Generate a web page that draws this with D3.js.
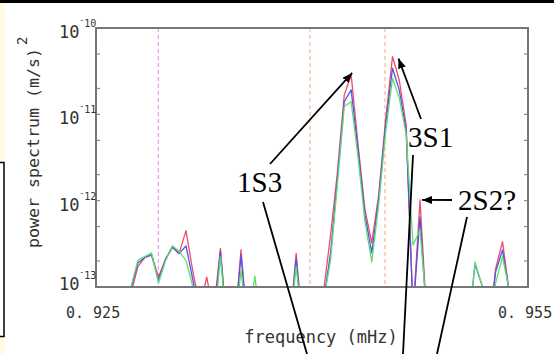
<!DOCTYPE html>
<html>
<head>
<meta charset="utf-8">
<script src="https://cdn.jsdelivr.net/npm/d3@7"></script>
<style>
  html, body { margin: 0; padding: 0; background: #fff; }
  svg { display: block; }
</style>
</head>
<body>
<script>
// frequency samples (mHz)
const freqs = [
  0.92552, 0.92600, 0.92647, 0.92695, 0.92743, 0.92791, 0.92839, 0.92886, 0.92934, 0.92982,
  0.93030, 0.93077, 0.93125, 0.93173, 0.93221, 0.93269, 0.93316, 0.93364, 0.93412, 0.93460,
  0.93507, 0.93555, 0.93603, 0.93651, 0.93699, 0.93746, 0.93794, 0.93842, 0.93890, 0.93938,
  0.93985, 0.94033, 0.94081, 0.94129, 0.94176, 0.94224, 0.94272, 0.94320, 0.94368, 0.94415,
  0.94463, 0.94511, 0.94559, 0.94606, 0.94654, 0.94702, 0.94750, 0.94798, 0.94845, 0.94893,
  0.94941, 0.94989, 0.95036, 0.95084, 0.95132, 0.95180, 0.95228, 0.95275, 0.95323, 0.95371,
  0.95419, 0.95466
];

// power spectrum, in units of 1e-13 (m/s)^2
const unit = 1e-13;
const redPow = [
  0.3, 0.3, 0.3, 0.4, 0.85, 1.72, 2.2, 2.35, 1.31, 2.1,
  2.9, 2.45, 4.5, 1.5, 0.6, 1.3, 0.5, 2.8, 0.3, 0.3,
  2.7, 0.3, 0.3, 0.3, 0.3, 0.3, 0.3, 0.3, 2.45, 0.3,
  0.3, 0.3, 0.9, 4.0, 21, 168, 286, 44, 7.8, 3.24,
  11.6, 86, 467, 250, 75, 0.5, 10.2, 0.4, 0.3, 0.3,
  0.3, 0.3, 0.3, 0.3, 0.5, 0.3, 0.3, 1.62, 3.35, 0.85,
  0.3, 0.3
];
const bluePow = [
  0.3, 0.3, 0.3, 0.5, 0.95, 1.9, 2.2, 2.35, 1.2, 2.05,
  2.9, 2.45, 2.99, 1.2, 0.5, 0.6, 0.4, 2.61, 0.3, 0.3,
  2.35, 0.3, 0.3, 0.3, 0.3, 0.3, 0.3, 0.3, 2.17, 0.3,
  0.3, 0.3, 0.7, 2.48, 17.4, 140, 192, 38.7, 6.8, 2.48,
  10.2, 75, 342, 192, 66, 0.5, 6.5, 0.4, 0.3, 0.3,
  0.3, 0.3, 0.3, 0.3, 1.85, 1.05, 0.3, 1.49, 2.68, 0.85,
  0.3, 0.3
];
const greenPow = [
  0.3, 0.3, 0.3, 0.6, 1.0, 2.05, 2.25, 2.48, 1.11, 2.0,
  3.0, 2.6, 2.02, 1.0, 0.4, 0.4, 0.3, 2.23, 0.3, 0.3,
  1.57, 0.3, 1.34, 0.3, 0.3, 0.3, 0.3, 0.3, 1.72, 0.3,
  0.3, 0.3, 0.7, 2.05, 15.2, 123, 140, 31.3, 5.7, 1.95,
  8.9, 61, 262, 155, 58, 3.06, 4.57, 0.5, 0.3, 0.3,
  0.3, 0.3, 0.3, 0.3, 1.95, 1.05, 0.3, 1.11, 2.24, 0.9,
  0.3, 0.3
];

// theoretical mode frequencies (dashed lines)
const refFreqs = [0.92933, 0.93986, 0.94507];

// x axis labels
const xTickValues = [0.925, 0.955];
const xTickLabels = ["0. 925", "0. 955"];

// annotated peaks
const modeNames = ["1S3", "3S1", "2S2?"];
const modeFreqs = [0.94272, 0.94559, 0.94750];
const modePow = [286, 467, 10.2];

const W = 554, H = 354;
const m = {top: 28, right: 26, bottom: 67, left: 96};

const x = d3.scaleLinear().domain([0.925, 0.955]).range([m.left, W - m.right]);
const y = d3.scaleLog().domain([1e-13, 1e-10]).range([H - m.bottom, m.top]);

const svg = d3.select("body").append("svg")
    .attr("width", W)
    .attr("height", H);

// slide frame bits
svg.append("rect").attr("x", 0).attr("y", 0).attr("width", W).attr("height", 3).attr("fill", "#000");
svg.append("rect").attr("x", 0).attr("y", 3).attr("width", 5).attr("height", 159).attr("fill", "#fffbe0");
svg.append("rect").attr("x", 0).attr("y", 337).attr("width", 5).attr("height", 17).attr("fill", "#fffbe0");
svg.append("rect").attr("x", -4).attr("y", 162.5).attr("width", 8).attr("height", 174)
    .attr("fill", "#fff").attr("stroke", "#000").attr("stroke-width", 1.5);

svg.append("clipPath").attr("id", "plot")
  .append("rect")
    .attr("x", m.left).attr("y", m.top)
    .attr("width", W - m.left - m.right).attr("height", H - m.top - m.bottom);

// dashed reference lines
svg.append("g")
  .selectAll("line")
  .data(refFreqs)
  .join("line")
    .attr("x1", d => x(d)).attr("x2", d => x(d))
    .attr("y1", m.top).attr("y2", H - m.bottom)
    .attr("stroke", (d, i) => i == 0 ? "#ec9cec" : "#f2b896")
    .attr("stroke-width", 1.2)
    .attr("stroke-dasharray", "4,3");

// spectra
const series = [
  {name: "red", values: redPow, color: "#ee4c6a"},
  {name: "blue", values: bluePow, color: "#5252ea"},
  {name: "green", values: greenPow, color: "#5ede6a"}
];

const line = d3.line()
    .x((d, i) => x(freqs[i]))
    .y(d => y(d * unit));

svg.append("g")
    .attr("clip-path", "url(#plot)")
  .selectAll("path")
  .data(series)
  .join("path")
    .attr("fill", "none")
    .attr("stroke", d => d.color)
    .attr("stroke-width", 1.3)
    .attr("stroke-linejoin", "round")
    .attr("d", d => line(d.values));

// frame + ticks
const axisColor = "#777";
const minor = y.ticks().filter(v => {
  const mant = Math.round(v / Math.pow(10, Math.floor(Math.log10(v) + 1e-9)));
  return mant == 1 || mant == 2 || mant == 5;
});

const ticks = svg.append("g").attr("stroke", axisColor).attr("stroke-width", 1);
ticks.selectAll(".l")
  .data(minor)
  .join("line")
    .attr("x1", m.left).attr("x2", m.left + 4)
    .attr("y1", d => y(d)).attr("y2", d => y(d));
ticks.selectAll(".r")
  .data(minor)
  .join("line")
    .attr("x1", W - m.right - 4).attr("x2", W - m.right)
    .attr("y1", d => y(d)).attr("y2", d => y(d));

svg.append("rect")
    .attr("x", m.left).attr("y", m.top)
    .attr("width", W - m.left - m.right).attr("height", H - m.top - m.bottom)
    .attr("fill", "none")
    .attr("stroke", axisColor)
    .attr("stroke-width", 2);

// y tick labels 10^n, one text each
const mono = "'DejaVu Sans Mono', 'Liberation Mono', monospace";
const decades = y.ticks().filter(v => Math.abs(Math.log10(v) - Math.round(Math.log10(v))) < 1e-6);

svg.append("g")
    .attr("fill", "#333")
    .attr("font-family", mono)
  .selectAll("text")
  .data(decades)
  .join("text")
    .attr("x", 59)
    .attr("y", v => y(v) + (v == y.domain()[0] ? 3 : 10))
    .each(function (v) {
      const t = d3.select(this);
      t.append("tspan").attr("font-size", 17).text("10");
      t.append("tspan").attr("font-size", 8).attr("dy", -15).text("-");
      t.append("tspan").attr("font-size", 10).attr("dy", 4)
          .text(String(-Math.round(Math.log10(v))));
    });

// x tick labels
svg.append("g")
    .attr("fill", "#333")
    .attr("font-family", mono)
  .selectAll("text")
  .data(xTickValues)
  .join("text")
    .attr("x", d => x(d) - 30)
    .attr("y", 318)
    .attr("font-size", 15)
    .text((d, i) => xTickLabels[i]);

// axis titles
svg.append("text")
    .attr("x", 321).attr("y", 343)
    .attr("text-anchor", "middle")
    .attr("font-family", mono)
    .attr("font-size", 17)
    .attr("fill", "#333")
    .text("frequency (mHz)");

const yt = svg.append("text")
    .attr("transform", "translate(39,248) rotate(-90)")
    .attr("font-family", mono)
    .attr("font-size", 16)
    .attr("fill", "#333");
yt.append("tspan").attr("textLength", 200).attr("lengthAdjust", "spacingAndGlyphs").text("power spectrum (m/s)");
yt.append("tspan").attr("dy", -12).attr("dx", 3).attr("font-size", 14).text("2");

// annotations
const defs = svg.append("defs");
defs.append("marker")
    .attr("id", "head")
    .attr("markerUnits", "userSpaceOnUse")
    .attr("viewBox", "0 0 10 8")
    .attr("refX", 10).attr("refY", 4)
    .attr("markerWidth", 10).attr("markerHeight", 8)
    .attr("orient", "auto")
  .append("path")
    .attr("d", "M0,0L10,4L0,8Z")
    .attr("fill", "#000");

const tip = i => {
  const off = [[1, -2], [6, 2], [2, 0]][i];
  return [x(modeFreqs[i]) + off[0], y(modePow[i] * unit) + off[1]];
};
// label anchor, arrow tail, lower leader line (start, end)
const layout = [
  {text: [237, 192], tail: [270, 164], lead: [[263, 202], [307, 354]]},
  {text: [408, 147], tail: [421, 119], lead: [[413, 155], [403, 354]]},
  {text: [458, 210], tail: [452, 200], lead: [[467, 217], [437, 354]]}
];

const ann = svg.append("g");
modeNames.forEach((name, i) => {
  const L = layout[i];
  const t = tip(i);
  ann.append("line")
      .attr("x1", L.tail[0]).attr("y1", L.tail[1])
      .attr("x2", t[0]).attr("y2", t[1])
      .attr("stroke", "#000").attr("stroke-width", 1.8)
      .attr("marker-end", "url(#head)");
  ann.append("line")
      .attr("x1", L.lead[0][0]).attr("y1", L.lead[0][1])
      .attr("x2", L.lead[1][0]).attr("y2", L.lead[1][1])
      .attr("stroke", "#000").attr("stroke-width", 1.8);
  ann.append("text")
      .attr("x", L.text[0]).attr("y", L.text[1])
      .attr("font-family", "'Liberation Serif', 'Times New Roman', serif")
      .attr("font-size", 29)
      .attr("fill", "#000")
      .text(name);
});
</script>
</body>
</html>
